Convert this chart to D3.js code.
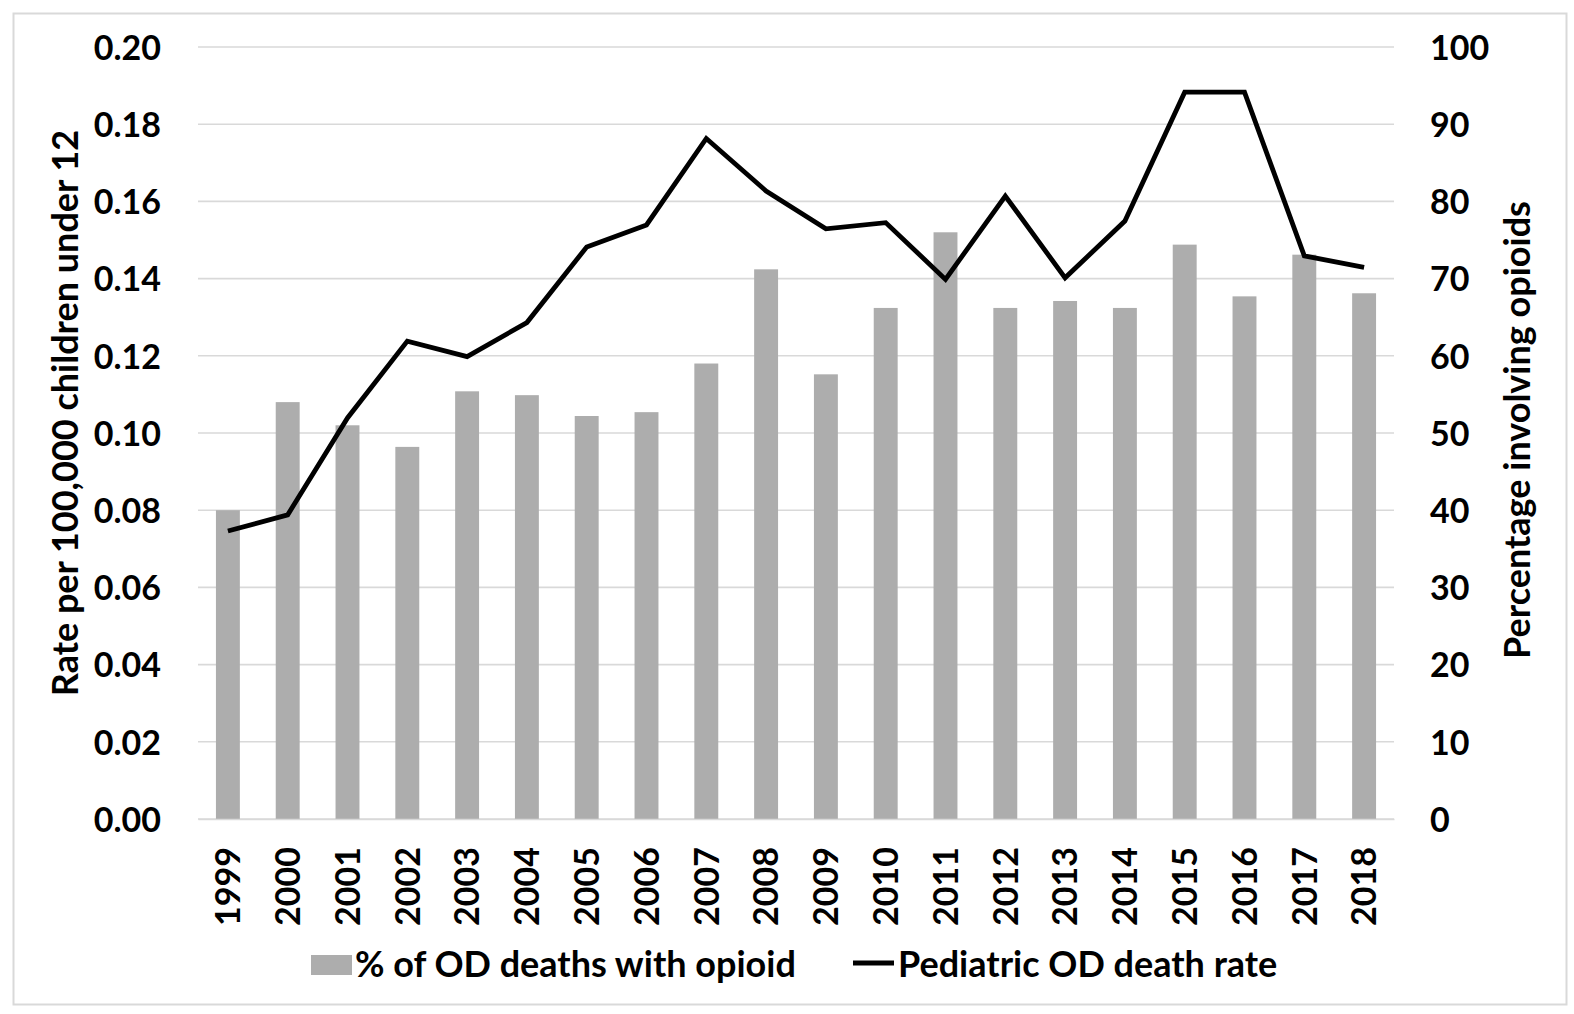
<!DOCTYPE html>
<html><head><meta charset="utf-8">
<script src="https://cdn.jsdelivr.net/npm/d3@7"></script>
<style>
html,body{margin:0;padding:0;background:#fff;}
text{font-family:Lato,"Open Sans",sans-serif;font-weight:bold;fill:#000;}
</style></head>
<body>
<script>
const years = ["1999","2000","2001","2002","2003","2004","2005","2006","2007","2008","2009","2010","2011","2012","2013","2014","2015","2016","2017","2018"];
const pctOpioid = [40.0,54.0,51.0,48.2,55.4,54.9,52.2,52.7,59.0,71.2,57.6,66.2,76.0,66.2,67.1,66.2,74.4,67.7,73.1,68.1];
const deathRate = [0.0746,0.0788,0.1039,0.1238,0.1198,0.1286,0.1482,0.1539,0.1763,0.1627,0.1529,0.1545,0.1398,0.1614,0.1402,0.1549,0.1883,0.1883,0.1459,0.1429];
const leftTicks = [0,0.02,0.04,0.06,0.08,0.10,0.12,0.14,0.16,0.18,0.20];
const rightTicks = [0,10,20,30,40,50,60,70,80,90,100];
const seriesNames = ["% of OD deaths with opioid","Pediatric OD death rate"];
const leftTitle = "Rate per 100,000 children under 12";
const rightTitle = "Percentage involving opioids";

const W=1574,H=1014;
const svg=d3.select("body").append("svg").attr("width",W).attr("height",H);
svg.append("rect").attr("x",13.5).attr("y",13.5).attr("width",1553).attr("height",991)
  .attr("fill","#fff").attr("stroke","#d9d9d9").attr("stroke-width",2);

const m={l:198,r:1394,t:47,b:819};
const x=d3.scaleBand().domain(years).range([m.l,m.r]).paddingInner(0.6).paddingOuter(0.3);
const yL=d3.scaleLinear().domain([0,0.2]).range([m.b,m.t]);
const yR=d3.scaleLinear().domain([0,100]).range([m.b,m.t]);

// gridlines
svg.append("g").selectAll("line").data(leftTicks).join("line")
  .attr("x1",m.l).attr("x2",m.r).attr("y1",d=>yL(d)).attr("y2",d=>yL(d))
  .attr("stroke","#d9d9d9").attr("stroke-width",1.6);

// bars
svg.append("g").selectAll("rect").data(years).join("rect")
  .attr("x",d=>x(d)).attr("width",x.bandwidth())
  .attr("y",(d,i)=>yR(pctOpioid[i])).attr("height",(d,i)=>yR(0)-yR(pctOpioid[i]))
  .attr("fill","#adadad");

// line
const line=d3.line().x((d,i)=>x(years[i])+x.bandwidth()/2).y(d=>yL(d));
svg.append("path").datum(deathRate).attr("d",line).attr("fill","none")
  .attr("stroke","#000").attr("stroke-width",4.8).attr("stroke-linejoin","miter");

// left axis
const axL=svg.append("g").attr("transform",`translate(${m.l},0)`)
  .call(d3.axisLeft(yL).tickValues(leftTicks).tickFormat(d3.format(".2f")).tickSize(0).tickPadding(37));
axL.select(".domain").remove();
axL.selectAll("text").style("font-size","34px").attr("dy","0.36em");

// right axis
const axR=svg.append("g").attr("transform",`translate(${m.r},0)`)
  .call(d3.axisRight(yR).tickValues(rightTicks).tickSize(0).tickPadding(36));
axR.select(".domain").remove();
axR.selectAll("text").style("font-size","34px").attr("dy","0.36em");

// x axis
const axX=svg.append("g").attr("transform",`translate(0,${m.b})`)
  .call(d3.axisBottom(x).tickSize(0).tickPadding(0));
axX.select(".domain").attr("stroke","#d9d9d9").attr("stroke-width",1.6);
axX.selectAll("text").style("font-size","34px")
  .attr("transform","rotate(-90)").attr("text-anchor","end")
  .attr("x",-28).attr("y",0).attr("dy","0.36em");

// axis titles
svg.append("text").attr("transform",`translate(78,${(m.t+m.b)/2-20}) rotate(-90)`)
  .attr("text-anchor","middle").style("font-size","36px").text(leftTitle);
svg.append("text").attr("transform",`translate(1530,${(m.t+m.b)/2-3}) rotate(-90)`)
  .attr("text-anchor","middle").style("font-size","36px").text(rightTitle);

// legend
const lg=svg.append("g");
lg.append("rect").attr("x",311).attr("y",955).attr("width",41).attr("height",20).attr("fill","#adadad");
lg.append("text").attr("x",355).attr("y",977).style("font-size","36px").text(seriesNames[0]);
lg.append("line").attr("x1",853).attr("x2",894).attr("y1",963).attr("y2",963).attr("stroke","#000").attr("stroke-width",4.8);
lg.append("text").attr("x",898).attr("y",977).style("font-size","36px").text(seriesNames[1]);
</script>
</body></html>
